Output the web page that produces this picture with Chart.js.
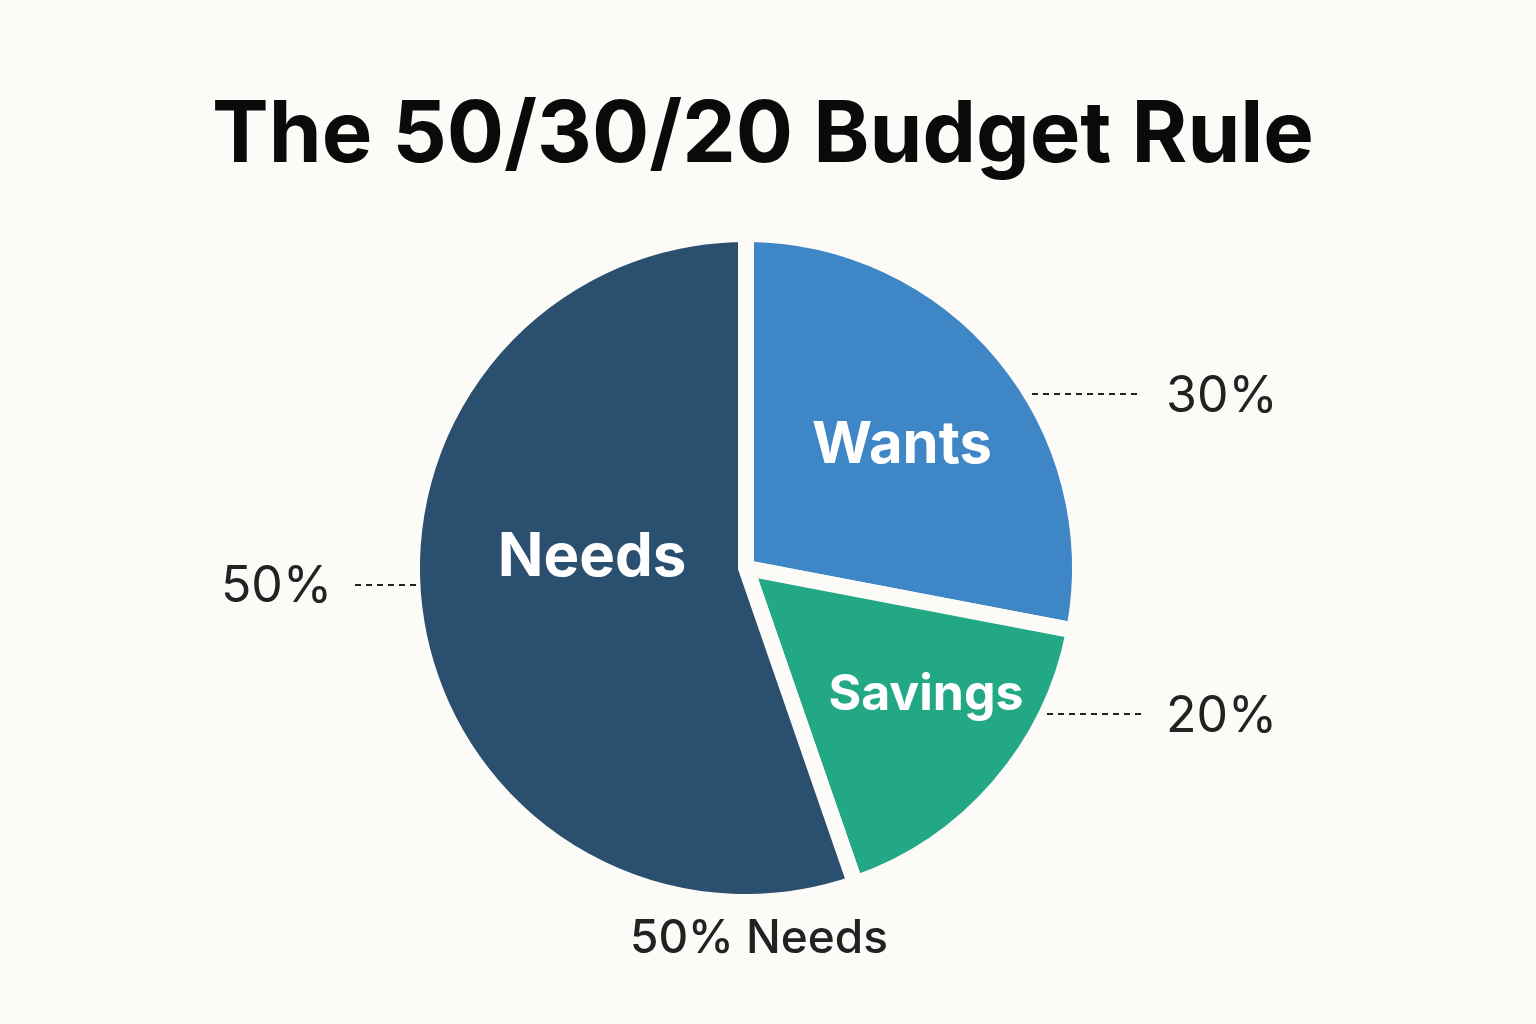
<!DOCTYPE html>
<html>
<head>
<meta charset="utf-8">
<title>The 50/30/20 Budget Rule</title>
<script src="https://cdn.jsdelivr.net/npm/chart.js@4.4.1/dist/chart.umd.min.js"></script>
<style>
  html, body { margin: 0; padding: 0; background: #fcfbf8; }
  #wrap { width: 1536px; height: 1024px; }
</style>
</head>
<body>
<div id="wrap"><canvas id="budgetChart"></canvas></div>
<script>
// slice order runs clockwise from 12 o'clock
const categories = ['Wants', 'Savings', 'Needs'];
const shares = [28.0, 16.7, 55.3];          // measured slice sizes
const percentLabels = ['30%', '20%', '50%']; // printed labels
const footLabel = '50% Needs';
const titleText = 'The 50/30/20 Budget Rule';
const sliceColors = ['#3e86c5', '#23a886', '#2b4f6f'];

const BG = '#fcfbf8';
const INK = '#222222';

// paints the page colour behind the chart
const backgroundPlugin = {
    id: 'pageBackground',
    beforeDraw(chart) {
        const { ctx, width, height } = chart;
        ctx.save();
        ctx.fillStyle = BG;
        ctx.fillRect(0, 0, width, height);
        ctx.restore();
    }
};

// title, slice names, leader lines and outer percentages
const labelPlugin = {
    id: 'sliceLabels',
    afterDraw(chart) {
        const { ctx } = chart;
        const arc = chart.getDatasetMeta(0).data[0];
        const cx = arc.x;
        const cy = arc.y;

        ctx.save();

        // title sits a little right of the pie centre
        ctx.textAlign = 'center';
        ctx.textBaseline = 'alphabetic';
        ctx.fillStyle = '#0a0a0a';
        ctx.font = 'bold 85px Inter, "Noto Sans", sans-serif';
        ctx.fillText(titleText, cx + 17, 162);

        ctx.textBaseline = 'middle';
        ctx.fillStyle = '#ffffff';

        // names inside the slices
        const inner = {
            Wants: { dx: 156, dy: -122, size: 58 },
            Savings: { dx: 180, dy: 127, size: 50 },
            Needs: { dx: -154, dy: -10, size: 60 }
        };
        categories.forEach(name => {
            const p = inner[name];
            ctx.font = `bold ${p.size}px Inter, "Noto Sans", sans-serif`;
            ctx.fillText(name, cx + p.dx, cy + p.dy);
        });

        // dotted leaders
        ctx.strokeStyle = INK;
        ctx.lineWidth = 2;
        ctx.setLineDash([6, 5]);
        const leaders = [
            { x1: 286, x2: 396, dy: -174 },  // Wants
            { x1: 301, x2: 397, dy: 146 },   // Savings
            { x1: -391, x2: -328, dy: 17 }   // Needs
        ];
        leaders.forEach(l => {
            ctx.beginPath();
            ctx.moveTo(cx + l.x1, cy + l.dy);
            ctx.lineTo(cx + l.x2, cy + l.dy);
            ctx.stroke();
        });
        ctx.setLineDash([]);

        // outer percentages
        ctx.fillStyle = INK;
        ctx.font = '50px Inter, "Noto Sans", sans-serif';
        ctx.textAlign = 'left';
        ctx.fillText(percentLabels[0], cx + 420, cy - 171);
        ctx.fillText(percentLabels[1], cx + 420, cy + 149);
        ctx.textAlign = 'right';
        ctx.fillText(percentLabels[2], cx - 414, cy + 19);

        ctx.textAlign = 'center';
        ctx.font = '500 46px Inter, "Noto Sans", sans-serif';
        ctx.fillText(footLabel, cx + 13, cy + 371);
        ctx.restore();
    }
};

new Chart(document.getElementById('budgetChart'), {
    type: 'pie',
    data: {
        labels: categories,
        datasets: [{
            data: shares,
            backgroundColor: sliceColors,
            borderColor: BG,
            borderWidth: 16,
            borderJoinStyle: 'miter'
        }]
    },
    options: {
        responsive: true,
        maintainAspectRatio: false,
        animation: false,
        radius: 334,
        rotation: 0,
        layout: {
            padding: { left: 100, right: 144, top: 200, bottom: 88 }
        },
        plugins: {
            legend: { display: false },
            tooltip: { enabled: false },
            title: { display: false }
        }
    },
    plugins: [backgroundPlugin, labelPlugin]
});
</script>
</body>
</html>
